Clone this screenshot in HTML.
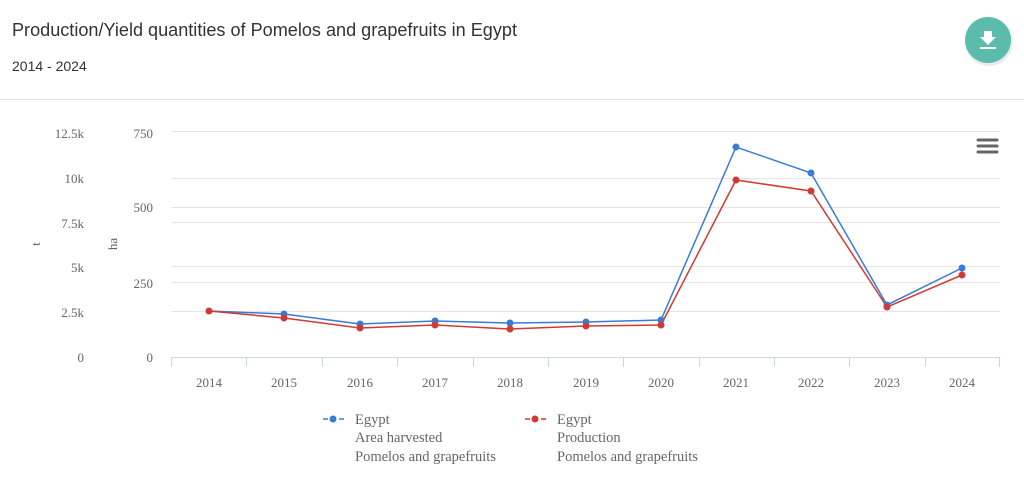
<!DOCTYPE html>
<html><head><meta charset="utf-8"><style>
body{margin:0;width:1024px;height:480px;background:#fff;overflow:hidden;font-family:"Liberation Sans",sans-serif}
</style></head><body>
<svg width="1024" height="480" xmlns="http://www.w3.org/2000/svg" style="position:absolute;left:0;top:0">
<text x="12" y="36" font-family="Liberation Sans, sans-serif" font-size="18" fill="#333" textLength="505" lengthAdjust="spacingAndGlyphs">Production/Yield quantities of Pomelos and grapefruits in Egypt</text>
<text x="12" y="71" font-family="Liberation Sans, sans-serif" font-size="14" fill="#333">2014 - 2024</text>
<line x1="0" y1="99.5" x2="1024" y2="99.5" stroke="#e0e0e0"/>
<circle cx="989" cy="42" r="24" fill="#d8d8d8" opacity="0.5"/>
<circle cx="988" cy="40" r="23" fill="#5bbcab"/>
<path d="M984 31h8v6h4l-8 8-8-8h4z" fill="#fff"/>
<rect x="980" y="47" width="16" height="2" fill="#fff"/>
<g stroke="#666" stroke-width="3" stroke-linecap="round"><line x1="978" y1="140" x2="997" y2="140"/><line x1="978" y1="146" x2="997" y2="146"/><line x1="978" y1="152" x2="997" y2="152"/></g>
<g stroke="#e6e6e6" stroke-width="1">
<line x1="171" y1="131.5" x2="1000" y2="131.5"/><line x1="171" y1="178.5" x2="1000" y2="178.5"/>
<line x1="171" y1="207.5" x2="1000" y2="207.5"/><line x1="171" y1="222.5" x2="1000" y2="222.5"/>
<line x1="171" y1="266.5" x2="1000" y2="266.5"/><line x1="171" y1="282.5" x2="1000" y2="282.5"/>
<line x1="171" y1="311.5" x2="1000" y2="311.5"/>
</g>
<g stroke="#ccd6eb"><line x1="171" y1="357.5" x2="1000" y2="357.5"/>
<line x1="171.5" y1="357" x2="171.5" y2="367"/><line x1="246.5" y1="357" x2="246.5" y2="367"/><line x1="322.5" y1="357" x2="322.5" y2="367"/><line x1="397.5" y1="357" x2="397.5" y2="367"/><line x1="473.5" y1="357" x2="473.5" y2="367"/><line x1="548.5" y1="357" x2="548.5" y2="367"/><line x1="623.5" y1="357" x2="623.5" y2="367"/><line x1="699.5" y1="357" x2="699.5" y2="367"/><line x1="774.5" y1="357" x2="774.5" y2="367"/><line x1="849.5" y1="357" x2="849.5" y2="367"/><line x1="925.5" y1="357" x2="925.5" y2="367"/><line x1="999.5" y1="357" x2="999.5" y2="367"/></g>
<g font-family="Liberation Serif, serif" font-size="13" fill="#666" text-anchor="end">
<text x="84" y="138">12.5k</text><text x="84" y="183">10k</text><text x="84" y="228">7.5k</text><text x="84" y="272">5k</text><text x="84" y="317">2.5k</text><text x="84" y="362">0</text>
<text x="153" y="138">750</text><text x="153" y="212">500</text><text x="153" y="288">250</text><text x="153" y="362">0</text>
</g>
<text transform="translate(40,244) rotate(-90)" font-family="Liberation Serif, serif" font-size="13" fill="#666" text-anchor="middle">t</text>
<text transform="translate(117,244) rotate(-90)" font-family="Liberation Serif, serif" font-size="13" fill="#666" text-anchor="middle">ha</text>
<g font-family="Liberation Serif, serif" font-size="13" fill="#666" text-anchor="middle">
<text x="209" y="387">2014</text><text x="284" y="387">2015</text><text x="360" y="387">2016</text><text x="435" y="387">2017</text><text x="510" y="387">2018</text><text x="586" y="387">2019</text><text x="661" y="387">2020</text><text x="736" y="387">2021</text><text x="811" y="387">2022</text><text x="887" y="387">2023</text><text x="962" y="387">2024</text>
</g>
<polyline fill="none" stroke="#3a7bd5" stroke-width="1.5" points="209,311 284,314 360,324 435,321 510,323 586,322 661,320 736,147 811,173 887,305 962,268"/>
<polyline fill="none" stroke="#cf3a35" stroke-width="1.5" points="209,311 284,318 360,328 435,325 510,329 586,326 661,325 736,180 811,191 887,307 962,275"/>
<g fill="#3a7bd5"><circle cx="284" cy="314" r="3.5"/><circle cx="360" cy="324" r="3.5"/><circle cx="435" cy="321" r="3.5"/><circle cx="510" cy="323" r="3.5"/><circle cx="586" cy="322" r="3.5"/><circle cx="661" cy="320" r="3.5"/><circle cx="736" cy="147" r="3.5"/><circle cx="811" cy="173" r="3.5"/><circle cx="887" cy="305" r="3.5"/><circle cx="962" cy="268" r="3.5"/></g>
<g fill="#cf3a35"><circle cx="209" cy="311" r="3.5"/><circle cx="284" cy="318" r="3.5"/><circle cx="360" cy="328" r="3.5"/><circle cx="435" cy="325" r="3.5"/><circle cx="510" cy="329" r="3.5"/><circle cx="586" cy="326" r="3.5"/><circle cx="661" cy="325" r="3.5"/><circle cx="736" cy="180" r="3.5"/><circle cx="811" cy="191" r="3.5"/><circle cx="887" cy="307" r="3.5"/><circle cx="962" cy="275" r="3.5"/></g>
<line x1="323" y1="419" x2="345" y2="419" stroke="#3a7bd5" stroke-width="1.5" stroke-dasharray="5,3"/><circle cx="333" cy="419" r="3.5" fill="#3a7bd5"/>
<line x1="525" y1="419" x2="547" y2="419" stroke="#cf3a35" stroke-width="1.5" stroke-dasharray="5,3"/><circle cx="535" cy="419" r="3.5" fill="#cf3a35"/>
<g font-family="Liberation Serif, serif" font-size="14.5" fill="#666">
<text x="355" y="424">Egypt</text><text x="355" y="442">Area harvested</text><text x="355" y="461">Pomelos and grapefruits</text>
<text x="557" y="424">Egypt</text><text x="557" y="442">Production</text><text x="557" y="461">Pomelos and grapefruits</text>
</g>
</svg>
</body></html>
